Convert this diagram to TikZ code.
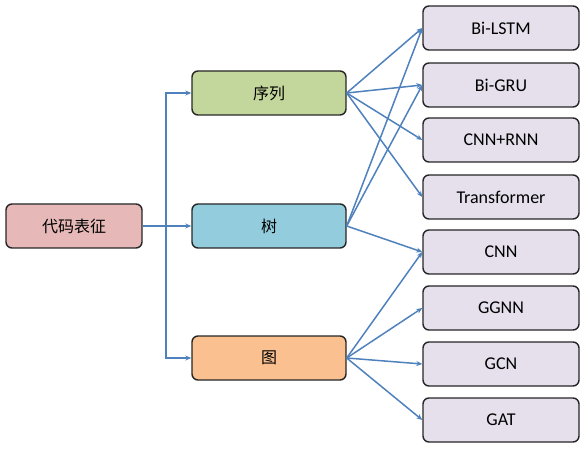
\documentclass[tikz,border=0pt]{standalone}
\usepackage{fontspec}
\setmainfont{Carlito}
\newfontfamily\cjk{Noto Sans CJK SC}
\usepackage{tikz}
\usetikzlibrary{positioning,arrows.meta}

\definecolor{edgeblue}{HTML}{4F81BD}
\definecolor{repfill}{HTML}{E6B9B8}
\definecolor{seqfill}{HTML}{C3D69B}
\definecolor{treefill}{HTML}{93CDDD}
\definecolor{graphfill}{HTML}{FAC090}
\definecolor{modelfill}{HTML}{E6E0EC}

\begin{document}
\begin{tikzpicture}
  [x=1pt,y=-1pt,
   every node/.style={rectangle,rounded corners=6pt,draw=black!85,line width=1.4pt,
     minimum height=44pt,font=\fontsize{16}{18}\selectfont},
   kind/.style={minimum width=154pt,font=\cjk\fontsize{16}{18}\selectfont},
   model/.style={minimum width=156pt,fill=modelfill,font=\fontsize{18}{20}\selectfont},
   link/.style={draw=edgeblue,line width=1.5pt,-{Stealth[length=6pt,width=5pt]}}]

  \useasboundingbox (0,0) rectangle (584,457);

  \node[fill=repfill,minimum width=136pt,font=\cjk\fontsize{16}{18}\selectfont] (rep) at (74,226) {代码表征};
  \node[kind,fill=seqfill] (seq) at (269,93) {序列};
  \node[kind,fill=treefill] (tree) at (269,226) {树};
  \node[kind,fill=graphfill] (graph) at (269,358) {图};

  \node[model] (lstm) at (501,28) {Bi-LSTM};
  \node[model] (gru) at (501,85) {Bi-GRU};
  \node[model] (cnnrnn) at (501,140) {CNN+RNN};
  \node[model] (trans) at (501,197) {Transformer};
  \node[model] (cnn) at (501,252) {CNN};
  \node[model] (ggnn) at (501,308) {GGNN};
  \node[model] (gcn) at (501,364) {GCN};
  \node[model] (gat) at (501,420) {GAT};

  \coordinate (trunk) at (166,226);
  \draw[link] (rep) -- (tree);
  \draw[link] (trunk) |- (seq);
  \draw[link] (trunk) |- (graph);

  \draw[link] (seq.east) -- (lstm.west);
  \draw[link] (seq.east) -- (gru.west);
  \draw[link] (seq.east) -- (cnnrnn.west);
  \draw[link] (seq.east) -- (trans.west);
  \draw[link] (tree.east) -- (lstm.west);
  \draw[link] (tree.east) -- (gru.west);
  \draw[link] (tree.east) -- (cnn.west);
  \draw[link] (graph.east) -- (cnn.west);
  \draw[link] (graph.east) -- (ggnn.west);
  \draw[link] (graph.east) -- (gcn.west);
  \draw[link] (graph.east) -- (gat.west);
\end{tikzpicture}
\end{document}
